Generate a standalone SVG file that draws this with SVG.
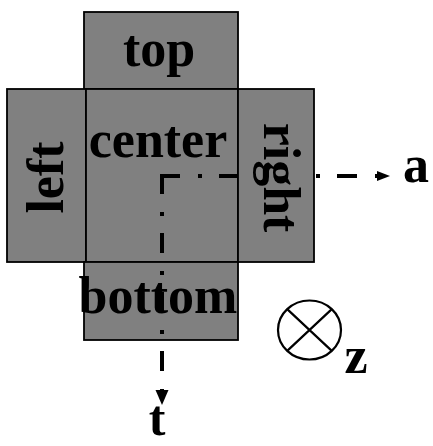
<svg xmlns="http://www.w3.org/2000/svg" width="433" height="446" viewBox="0 0 433 446">
  <style>
    .face { fill: #808080; stroke: #000; stroke-width: 1.8; }
    .lbl { font-family: "Liberation Serif", "Times New Roman", serif; font-weight: bold; font-size: 52px; fill: #000; text-anchor: middle; }
    .axis { fill: none; stroke: #000; stroke-width: 4; stroke-dasharray: 20 18 4 17; }
  </style>
  <defs>
    <marker id="headH" markerUnits="userSpaceOnUse" markerWidth="14" markerHeight="12" refX="0" refY="5" orient="auto">
      <path d="M0,0 L13,5 L0,10 Z" fill="#000"/>
    </marker>
    <marker id="headV" markerUnits="userSpaceOnUse" markerWidth="16" markerHeight="14" refX="0" refY="6.5" orient="auto">
      <path d="M0,0 L15,6.5 L0,13 Z" fill="#000"/>
    </marker>
  </defs>
  <g id="top">
    <rect class="face" x="84" y="12" width="154" height="77"/>
    <text class="lbl" x="159" y="66">top</text>
  </g>
  <g id="left">
    <rect class="face" x="7" y="89" width="79" height="173"/>
    <text class="lbl" transform="translate(63,177.5) rotate(-90)">left</text>
  </g>
  <g id="center">
    <rect class="face" x="86" y="89" width="152" height="173"/>
    <text class="lbl" x="158" y="157">center</text>
  </g>
  <g id="bottom">
    <rect class="face" x="84" y="262" width="154" height="78"/>
    <text class="lbl" x="158" y="313">bottom</text>
  </g>
  <g id="connectors">
    <path class="axis" d="M160,176 H377" marker-end="url(#headH)"/>
    <path class="axis" d="M162,174 V390" marker-end="url(#headV)"/>
  </g>
  <g id="right">
    <rect class="face" x="238" y="89" width="76" height="173"/>
    <text class="lbl" transform="translate(264,177.5) rotate(90)">right</text>
  </g>
  <g id="label-a">
    <text class="lbl" x="416" y="182">a</text>
  </g>
  <g id="label-t">
    <text class="lbl" x="157" y="435" style="font-size:50px">t</text>
  </g>
  <g id="z-axis">
    <ellipse cx="309.5" cy="330" rx="31.5" ry="29.5" fill="none" stroke="#000" stroke-width="2.2"/>
    <path d="M287.2,309.1 L331.8,350.9 M331.8,309.1 L287.2,350.9" fill="none" stroke="#000" stroke-width="2.2"/>
    <text class="lbl" x="356" y="373">z</text>
  </g>
</svg>
